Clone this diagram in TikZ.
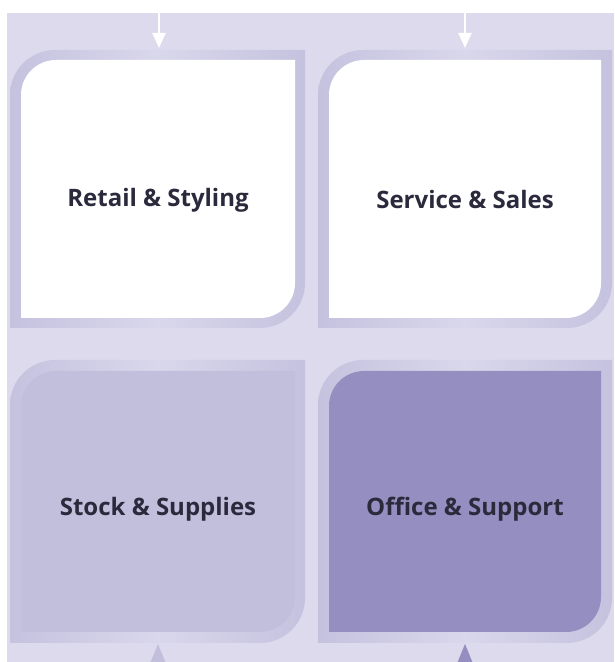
\documentclass[tikz,border=0pt]{standalone}
\usepackage{fontspec}
\setmainfont{Open Sans}
\usepackage{tikz}
\usetikzlibrary{arrows.meta}
\definecolor{backlav}{HTML}{DCDAEC}
\definecolor{rimlav}{HTML}{C5C2DF}
\definecolor{rimpale}{HTML}{D9D7EB}
\definecolor{stocklav}{HTML}{C2BFDD}
\definecolor{officelav}{HTML}{958EC0}
\definecolor{labelink}{HTML}{2B2A3D}
% tile with rounded top left and bottom right corners: left, bottom, right, top, radius
\newcommand{\tileshape}[5]{(#3,#4) -- ({#1+#5},#4) arc[start angle=90,end angle=180,radius=#5] -- (#1,#2) -- ({#3-#5},#2) arc[start angle=270,end angle=360,radius=#5] -- cycle}

\begin{document}
\begin{tikzpicture}[x=1pt, y=1pt,
  rim/.style={left color=rimlav, right color=rimlav, middle color=rimpale, draw=none},
  label/.style={font=\fontsize{24}{28}\selectfont\bfseries, text=labelink},
  inarrow/.style={draw=white, line width=2.2pt, -{Triangle[length=15pt,width=13pt]}}]
	\useasboundingbox (0,0) rectangle (614,662);
	\fill[backlav] (7,0) rectangle (614,649);
	
	\shade[rim] \tileshape{10}{334}{305}{612}{45};
	\fill[white] \tileshape{21}{344}{295}{602}{35};
	\shade[rim] \tileshape{318}{334}{612}{612}{45};
	\fill[white] \tileshape{329}{344}{601}{602}{35};
	\shade[rim] \tileshape{10}{19}{305}{302}{45};
	\fill[stocklav] \tileshape{21}{30}{295}{291}{35};
	\shade[rim] \tileshape{318}{19}{612}{302}{45};
	\fill[officelav] \tileshape{329}{30}{601}{291}{35};
	
	\node[label] (retail) at (158,462) {Retail \& Styling};
	\node[label] (service) at (465,462) {Service \& Sales};
	\node[label] (stock) at (158,153) {Stock \& Supplies};
	\node[label] (office) at (465,153) {Office \& Support};
	
	\coordinate (retailin) at (159,649);
	\coordinate (retailtip) at (159,614);
	\coordinate (servicein) at (465,649);
	\coordinate (servicetip) at (465,614);
	\draw[inarrow] (retailin) -- (retailtip);
	\draw[inarrow] (servicein) -- (servicetip);
	
	\fill[stocklav] (158,18) -- (167,-4) -- (149,-4) -- cycle;
	\fill[officelav] (465,18) -- (474,-4) -- (456,-4) -- cycle;
\end{tikzpicture}
\end{document}
